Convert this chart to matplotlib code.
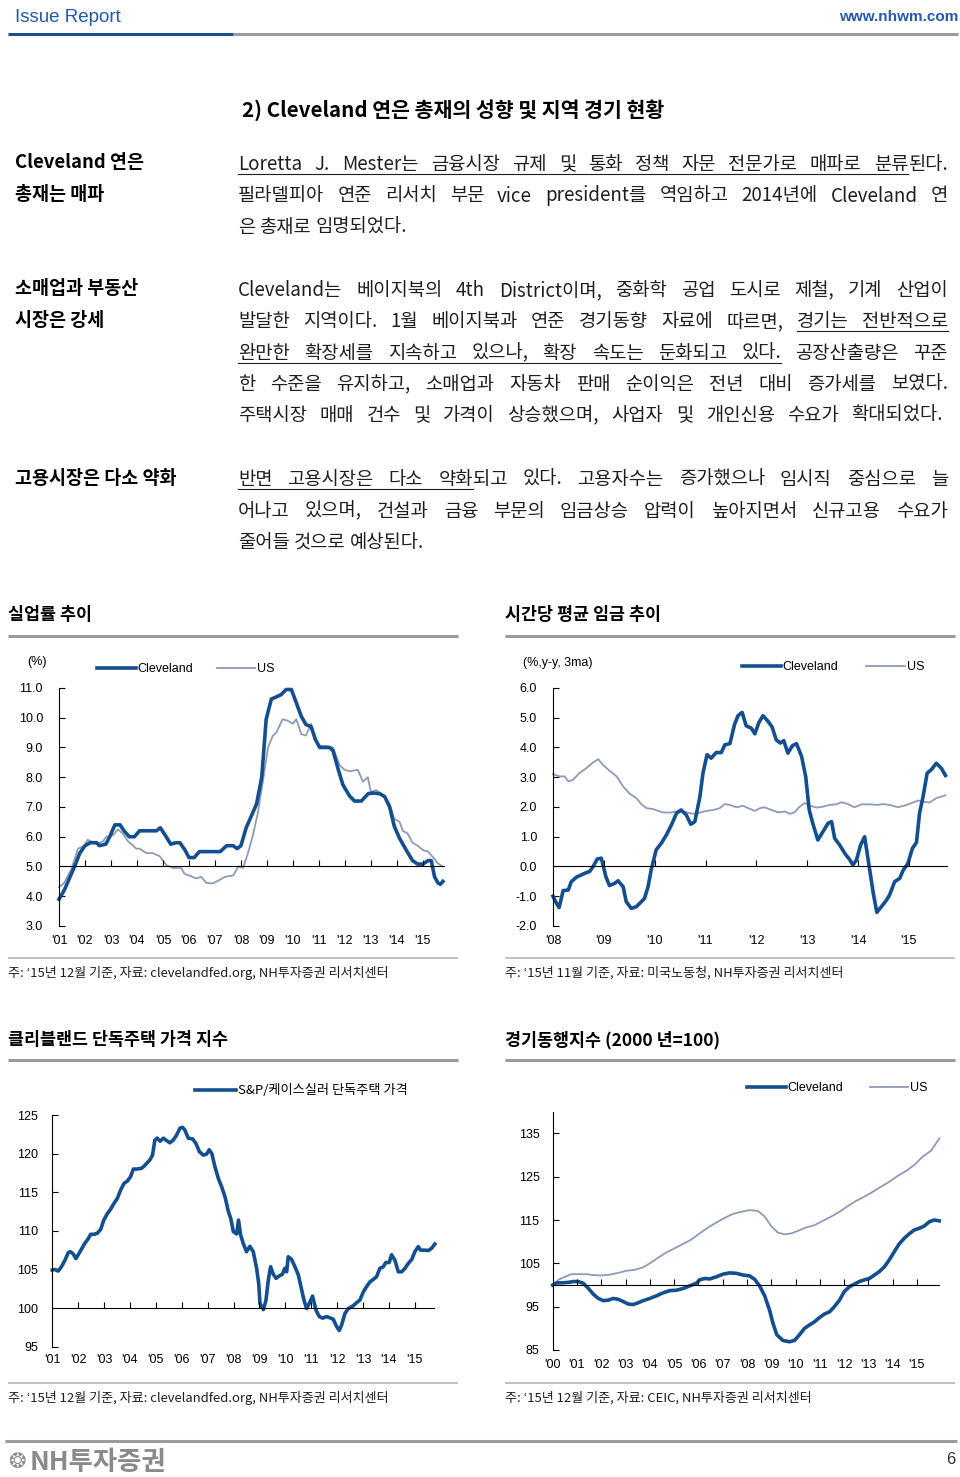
import matplotlib
matplotlib.use('Agg')
import matplotlib.pyplot as plt
import matplotlib.markers as mmarkers
from matplotlib.lines import Line2D

KR = ['Noto Sans CJK KR', 'DejaVu Sans']
LAT = ['Liberation Sans', 'DejaVu Sans']
plt.rcParams['font.family'] = KR

NAVY = '#134f8e'
SOFT = '#8d9bb6'
RULE = '#9b9b9b'
TXT = '#1e1e1e'

# ---- 실업률 추이 (%)
unemp_cle_t = [2001.0, 2001.2, 2001.4, 2001.6, 2001.8, 2002.0, 2002.2, 2002.45, 2002.55, 2002.8,
               2002.95, 2003.15, 2003.35, 2003.5, 2003.7, 2003.9, 2004.1, 2004.35, 2004.75, 2004.9,
               2005.05, 2005.3, 2005.5, 2005.65, 2005.85, 2006.0, 2006.2, 2006.4, 2006.65, 2007.2,
               2007.45, 2007.7, 2007.85, 2008.0, 2008.2, 2008.4, 2008.6, 2008.8, 2008.97, 2009.17,
               2009.36, 2009.55, 2009.74, 2009.94, 2010.13, 2010.32, 2010.5, 2010.7, 2010.87, 2011.03,
               2011.4, 2011.54, 2011.73, 2011.92, 2012.18, 2012.37, 2012.63, 2012.9, 2013.08, 2013.33,
               2013.53, 2013.72, 2013.9, 2014.1, 2014.36, 2014.6, 2014.8, 2015.0, 2015.2, 2015.32,
               2015.45, 2015.58, 2015.67, 2015.77]
unemp_cle = [3.9, 4.2, 4.6, 5.0, 5.45, 5.7, 5.8, 5.8, 5.7, 5.75,
             6.0, 6.4, 6.4, 6.2, 6.0, 6.0, 6.2, 6.2, 6.2, 6.3,
             6.1, 5.75, 5.8, 5.8, 5.55, 5.3, 5.3, 5.5, 5.5, 5.5,
             5.7, 5.7, 5.6, 5.7, 6.3, 6.7, 7.1, 8.0, 9.95, 10.63,
             10.7, 10.78, 10.95, 10.95, 10.5, 10.05, 9.77, 9.7, 9.26, 9.0,
             9.0, 8.9, 8.3, 7.75, 7.37, 7.2, 7.2, 7.45, 7.47, 7.45,
             7.35, 7.0, 6.35, 5.95, 5.55, 5.2, 5.08, 5.08, 5.2, 5.2,
             4.65, 4.45, 4.4, 4.5]
unemp_us_t = [2001.0, 2001.2, 2001.47, 2001.73, 2001.99, 2002.1, 2002.45, 2002.7, 2002.82, 2003.08,
              2003.27, 2003.46, 2003.65, 2003.85, 2003.97, 2004.1, 2004.36, 2004.6, 2004.87, 2005.13,
              2005.38, 2005.7, 2005.83, 2006.0, 2006.28, 2006.47, 2006.67, 2006.92, 2007.18, 2007.37,
              2007.7, 2007.9, 2008.08, 2008.27, 2008.46, 2008.65, 2008.85, 2009.04, 2009.23, 2009.36,
              2009.6, 2009.8, 2010.0, 2010.13, 2010.32, 2010.5, 2010.7, 2010.83, 2011.03, 2011.28,
              2011.54, 2011.8, 2011.99, 2012.18, 2012.5, 2012.69, 2012.88, 2013.0, 2013.2, 2013.46,
              2013.72, 2013.9, 2014.1, 2014.23, 2014.42, 2014.6, 2014.8, 2015.0, 2015.2, 2015.4,
              2015.58, 2015.77]
unemp_us = [4.3, 4.45, 4.9, 5.6, 5.7, 5.9, 5.75, 5.85, 6.0, 6.05,
            6.25, 6.1, 5.85, 5.7, 5.6, 5.6, 5.45, 5.45, 5.35, 5.05,
            4.95, 4.96, 4.75, 4.7, 4.6, 4.65, 4.45, 4.43, 4.55, 4.65,
            4.7, 5.0, 4.95, 5.45, 6.05, 6.8, 7.9, 9.0, 9.4, 9.5,
            9.95, 9.9, 9.8, 9.95, 9.45, 9.4, 9.8, 9.25, 9.05, 9.05,
            9.0, 8.4, 8.25, 8.2, 8.25, 7.85, 8.0, 7.5, 7.57, 7.4,
            7.1, 6.6, 6.5, 6.2, 6.1, 5.8, 5.7, 5.55, 5.5, 5.3,
            5.1, 5.0]

# ---- 시간당 평균 임금 추이 (%, y-y, 3ma)
wage_cle_t = [2008.0, 2008.07, 2008.12, 2008.2, 2008.3, 2008.36, 2008.46, 2008.56, 2008.66, 2008.72,
              2008.79, 2008.87, 2008.95, 2009.04, 2009.11, 2009.21, 2009.28, 2009.38, 2009.44, 2009.54,
              2009.64, 2009.74, 2009.8, 2009.87, 2009.93, 2010.03, 2010.13, 2010.23, 2010.33, 2010.43,
              2010.52, 2010.62, 2010.71, 2010.79, 2010.89, 2010.95, 2011.03, 2011.11, 2011.21, 2011.31,
              2011.38, 2011.48, 2011.57, 2011.64, 2011.72, 2011.8, 2011.9, 2011.97, 2012.05, 2012.13,
              2012.23, 2012.31, 2012.39, 2012.47, 2012.54, 2012.62, 2012.71, 2012.79, 2012.89, 2012.97,
              2013.04, 2013.11, 2013.21, 2013.31, 2013.41, 2013.48, 2013.54, 2013.64, 2013.74, 2013.84,
              2013.9, 2013.97, 2014.05, 2014.13, 2014.2, 2014.3, 2014.37, 2014.46, 2014.56, 2014.62,
              2014.72, 2014.82, 2014.89, 2014.98, 2015.07, 2015.15, 2015.21, 2015.28, 2015.36, 2015.44,
              2015.54, 2015.64, 2015.72]
wage_cle = [-1.0, -1.24, -1.38, -0.81, -0.79, -0.51, -0.36, -0.28, -0.2, -0.17,
            0.0, 0.25, 0.28, -0.34, -0.64, -0.57, -0.48, -0.68, -1.18, -1.41,
            -1.35, -1.18, -1.07, -0.68, -0.12, 0.56, 0.78, 1.06, 1.4, 1.79,
            1.9, 1.74, 1.42, 1.51, 2.35, 3.14, 3.76, 3.64, 3.83, 3.83,
            4.09, 4.13, 4.77, 5.07, 5.18, 4.73, 4.65, 4.46, 4.84, 5.07,
            4.88, 4.69, 4.26, 4.15, 4.23, 3.81, 4.06, 4.13, 3.7, 3.03,
            1.9, 1.45, 0.89, 1.17, 1.45, 1.51, 0.95, 0.72, 0.44, 0.22,
            0.05, 0.22, 0.72, 1.0, 0.22, -0.9, -1.54, -1.35, -1.13, -0.96,
            -0.51, -0.4, -0.12, 0.1, 0.61, 0.81, 1.79, 2.35, 3.14, 3.25,
            3.47, 3.3, 3.06]
wage_us_t = [2008.0, 2008.13, 2008.23, 2008.3, 2008.39, 2008.52, 2008.66, 2008.79, 2008.89, 2008.98,
             2009.11, 2009.25, 2009.38, 2009.51, 2009.64, 2009.74, 2009.84, 2009.97, 2010.07, 2010.16,
             2010.3, 2010.43, 2010.56, 2010.69, 2010.79, 2010.89, 2011.02, 2011.15, 2011.28, 2011.38,
             2011.48, 2011.61, 2011.74, 2011.84, 2011.97, 2012.07, 2012.16, 2012.3, 2012.43, 2012.56,
             2012.66, 2012.75, 2012.85, 2012.95, 2013.05, 2013.18, 2013.31, 2013.44, 2013.57, 2013.67,
             2013.8, 2013.93, 2014.07, 2014.23, 2014.39, 2014.49, 2014.62, 2014.79, 2014.92, 2015.05,
             2015.18, 2015.28, 2015.41, 2015.54, 2015.72]
wage_us = [3.1, 3.03, 3.03, 2.86, 2.91, 3.14, 3.31, 3.5, 3.61, 3.42,
           3.22, 3.03, 2.69, 2.44, 2.3, 2.09, 1.96, 1.93, 1.87, 1.82,
           1.81, 1.85, 1.85, 1.79, 1.77, 1.81, 1.87, 1.9, 1.96, 2.1,
           2.07, 1.99, 2.04, 1.96, 1.87, 1.96, 1.99, 1.9, 1.82, 1.85,
           1.77, 1.82, 2.01, 2.13, 2.05, 1.98, 2.01, 2.07, 2.09, 2.16,
           2.1, 1.99, 2.09, 2.09, 2.07, 2.1, 2.07, 1.99, 2.05, 2.13,
           2.22, 2.18, 2.15, 2.3, 2.39]

# ---- 클리블랜드 단독주택 가격 지수
house_t = [2001.0, 2001.1, 2001.23, 2001.36, 2001.49, 2001.62, 2001.7, 2001.81, 2001.91, 2002.0,
           2002.13, 2002.26, 2002.39, 2002.48, 2002.61, 2002.74, 2002.87, 2002.99, 2003.12, 2003.25,
           2003.38, 2003.51, 2003.64, 2003.77, 2003.9, 2004.02, 2004.13, 2004.26, 2004.45, 2004.58,
           2004.77, 2004.87, 2004.96, 2005.05, 2005.16, 2005.29, 2005.41, 2005.54, 2005.67, 2005.8,
           2005.93, 2006.03, 2006.12, 2006.25, 2006.42, 2006.55, 2006.68, 2006.83, 2006.96, 2007.06,
           2007.16, 2007.28, 2007.41, 2007.54, 2007.67, 2007.8, 2007.89, 2007.99, 2008.12, 2008.19,
           2008.27, 2008.37, 2008.5, 2008.63, 2008.76, 2008.89, 2008.97, 2009.02, 2009.15, 2009.25,
           2009.34, 2009.43, 2009.53, 2009.64, 2009.76, 2009.89, 2009.98, 2010.05, 2010.11, 2010.24,
           2010.37, 2010.5, 2010.63, 2010.72, 2010.82, 2010.92, 2011.05, 2011.18, 2011.31, 2011.44,
           2011.59, 2011.75, 2011.85, 2011.98, 2012.08, 2012.17, 2012.3, 2012.43, 2012.6, 2012.75,
           2012.88, 2013.01, 2013.14, 2013.27, 2013.39, 2013.52, 2013.65, 2013.78, 2013.88, 2014.01,
           2014.1, 2014.23, 2014.36, 2014.49, 2014.62, 2014.75, 2014.88, 2015.0, 2015.13, 2015.22,
           2015.39, 2015.52, 2015.65, 2015.77]
house_idx = [104.93, 105.0, 104.8, 105.4, 106.2, 107.2, 107.3, 107.0, 106.4, 106.9,
             107.65, 108.4, 109.0, 109.55, 109.55, 109.7, 110.2, 111.4, 112.2, 112.8,
             113.55, 114.2, 115.3, 116.15, 116.45, 117.0, 118.0, 118.0, 118.1, 118.5,
             119.2, 119.8, 121.75, 122.0, 121.6, 122.0, 121.7, 121.4, 121.75, 122.4,
             123.3, 123.4, 123.05, 122.0, 121.9, 121.3, 120.25, 119.8, 119.95, 120.5,
             120.0, 118.3, 116.8, 115.7, 114.4, 112.5, 111.6, 109.9, 109.6, 111.4,
             109.5, 108.4, 107.3, 108.0, 107.3, 105.15, 103.2, 100.6, 99.8, 101.0,
             103.6, 105.35, 104.4, 103.85, 104.15, 104.4, 105.15, 104.7, 106.65, 106.3,
             105.35, 104.3, 102.35, 101.0, 99.95, 100.6, 101.55, 99.75, 98.9, 98.7,
             98.9, 98.7, 98.55, 97.6, 97.1, 97.8, 99.3, 99.95, 100.25, 100.7,
             101.05, 102.1, 102.8, 103.4, 103.7, 104.05, 105.15, 105.35, 105.9, 105.9,
             106.9, 106.2, 104.7, 104.7, 105.15, 105.8, 106.3, 107.3, 107.95, 107.5,
             107.5, 107.45, 107.75, 108.3]

# ---- 경기동행지수 (2000년=100)
coin_cle_t = [2000.0, 2000.16, 2000.37, 2000.64, 2000.85, 2001.05, 2001.26, 2001.47, 2001.67, 2001.88,
              2002.08, 2002.29, 2002.49, 2002.7, 2002.9, 2003.11, 2003.32, 2003.52, 2003.73, 2004.0,
              2004.27, 2004.55, 2004.82, 2005.1, 2005.37, 2005.64, 2005.92, 2006.05, 2006.26, 2006.47,
              2006.74, 2007.01, 2007.29, 2007.56, 2007.84, 2008.11, 2008.32, 2008.52, 2008.73, 2008.93,
              2009.07, 2009.23, 2009.48, 2009.75, 2009.96, 2010.16, 2010.37, 2010.58, 2010.78, 2010.99,
              2011.19, 2011.4, 2011.6, 2011.81, 2012.01, 2012.22, 2012.42, 2012.63, 2012.84, 2013.04,
              2013.25, 2013.45, 2013.66, 2013.86, 2014.07, 2014.27, 2014.48, 2014.68, 2014.89, 2015.1,
              2015.3, 2015.51, 2015.71, 2015.92]
coin_cle = [100.0, 100.5, 100.5, 100.6, 100.8, 100.8, 100.4, 99.2, 97.9, 96.9,
            96.4, 96.5, 96.9, 96.7, 96.2, 95.6, 95.5, 95.9, 96.4, 96.9,
            97.5, 98.2, 98.7, 98.8, 99.2, 99.8, 100.4, 101.2, 101.5, 101.4,
            101.9, 102.5, 102.8, 102.7, 102.3, 102.1, 101.3, 99.8, 97.5, 94.2,
            91.2, 88.5, 87.2, 86.9, 87.2, 88.5, 90.0, 90.8, 91.5, 92.5,
            93.3, 93.8, 95.0, 96.5, 98.5, 99.6, 100.2, 100.8, 101.2, 101.5,
            102.3, 103.1, 104.2, 105.8, 107.7, 109.5, 110.8, 111.8, 112.7, 113.1,
            113.6, 114.6, 115.0, 114.8]
coin_us_t = [2000.0, 2000.23, 2000.51, 2000.78, 2001.05, 2001.4, 2001.67, 2002.01, 2002.36, 2002.7,
             2003.04, 2003.38, 2003.73, 2004.0, 2004.34, 2004.68, 2005.03, 2005.37, 2005.71, 2006.05,
             2006.4, 2006.74, 2007.08, 2007.42, 2007.77, 2008.11, 2008.45, 2008.73, 2009.0, 2009.27,
             2009.55, 2009.82, 2010.1, 2010.44, 2010.78, 2011.12, 2011.47, 2011.81, 2012.15, 2012.49,
             2012.84, 2013.18, 2013.52, 2013.86, 2014.21, 2014.55, 2014.89, 2015.23, 2015.58, 2015.92]
coin_us = [99.8, 101.2, 101.9, 102.5, 102.5, 102.5, 102.3, 102.2, 102.4, 102.8,
           103.3, 103.5, 104.1, 105.0, 106.3, 107.5, 108.5, 109.5, 110.5, 111.9,
           113.3, 114.4, 115.5, 116.4, 116.9, 117.3, 117.1, 115.8, 113.6, 112.1,
           111.7, 111.9, 112.5, 113.3, 113.8, 114.8, 115.8, 116.9, 118.2, 119.4,
           120.4, 121.5, 122.7, 123.8, 125.2, 126.3, 127.7, 129.6, 131.0, 133.8]

# ---- body text ([ ] marks underlined runs)
para1 = ["[Loretta J. Mester는 금융시장 규제 및 통화 정책 자문 전문가로 매파로 분류]된다.",
         "필라델피아 연준 리서치 부문 vice president를 역임하고 2014년에 Cleveland 연",
         "은 총재로 임명되었다."]
para2 = ["Cleveland는 베이지북의 4th District이며, 중화학 공업 도시로 제철, 기계 산업이",
         "발달한 지역이다. 1월 베이지북과 연준 경기동향 자료에 따르면, [경기는 전반적으로]",
         "[완만한 확장세를 지속하고 있으나, 확장 속도는 둔화되고 있다.] 공장산출량은 꾸준",
         "한 수준을 유지하고, 소매업과 자동차 판매 순이익은 전년 대비 증가세를 보였다.",
         "주택시장 매매 건수 및 가격이 상승했으며, 사업자 및 개인신용 수요가 확대되었다."]
para3 = ["[반면 고용시장은 다소 약화]되고 있다. 고용자수는 증가했으나 임시직 중심으로 늘",
         "어나고 있으며, 건설과 금융 부문의 임금상승 압력이 높아지면서 신규고용 수요가",
         "줄어들 것으로 예상된다."]

W, H = 960, 1477
fig = plt.figure(figsize=(W / 100, H / 100), dpi=100)
page = fig.add_axes([0, 0, 1, 1])
page.set_xlim(0, W)
page.set_ylim(H, 0)
page.axis('off')
renderer = fig.canvas.get_renderer()


def parse(line):
    words, ul = [], False
    for w in line.split(' '):
        pieces, buf = [], ''
        for ch in w:
            if ch in '[]':
                if buf:
                    pieces.append((buf, ul))
                    buf = ''
                ul = ch == '['
            else:
                buf += ch
        if buf:
            pieces.append((buf, ul))
        words.append(pieces)
    return words


def text_w(t):
    return t.get_window_extent(renderer).width


def body_line(x0, x1, y, line, justify, size=13.5):
    words = []
    for w in parse(line):
        pieces = []
        for s, ul in w:
            t = page.text(0, y, s, fontsize=size, color=TXT, va='baseline', ha='left')
            pieces.append((t, text_w(t), ul))
        words.append(pieces)
    widths = [sum(p[1] for p in w) for w in words]
    if justify and len(words) > 1:
        gap = (x1 - x0 - sum(widths)) / (len(words) - 1)
    else:
        a = page.text(0, 0, 'a a', fontsize=size)
        b = page.text(0, 0, 'aa', fontsize=size)
        gap = text_w(a) - text_w(b)
        a.remove()
        b.remove()
    x, runs, cur = x0, [], None
    for i, w in enumerate(words):
        if i:
            x += gap
        for t, wd, ul in w:
            t.set_x(x)
            if ul:
                cur = [x, x + wd] if cur is None else [cur[0], x + wd]
            elif cur is not None:
                runs.append(cur)
                cur = None
            x += wd
    if cur is not None:
        runs.append(cur)
    for a, b in runs:
        page.plot([a, b], [y + 4, y + 4], color=TXT, lw=0.8)


def paragraph(lines, y0, step, last_right=None):
    for i, ln in enumerate(lines):
        last = i == len(lines) - 1
        if last and last_right:
            body_line(238, last_right, y0 + i * step + 7, ln, justify=True)
        else:
            body_line(238, 948, y0 + i * step + 7, ln, justify=not last)


def hrule(x0, x1, y, color=RULE, lw=2.2):
    page.plot([x0, x1], [y, y], color=color, lw=lw, solid_capstyle='butt')


# header
page.text(15, 17, 'Issue Report', family=LAT, fontsize=13.5, color='#2459a8', va='center')
page.text(958, 17, 'www.nhwm.com', family=LAT, fontsize=11, fontweight='bold', color='#2459a8',
          va='center', ha='right')
hrule(233, 958, 34)
hrule(8, 233, 34, color='#1d4f96')

page.text(242, 110, '2) Cleveland 연은 총재의 성향 및 지역 경기 현황', fontsize=14.8,
          fontweight='bold', color='black', va='center')

for y, s in [(163, 'Cleveland 연은'), (195, '총재는 매파'), (289, '소매업과 부동산'),
             (321, '시장은 강세'), (478, '고용시장은 다소 약화')]:
    page.text(15, y, s, fontsize=13.3, fontweight='bold', color='black', va='center')

paragraph(para1, 163, 31.5)
paragraph(para2, 289, 31.3, last_right=943)
paragraph(para3, 478, 31.5)

# chart frames
for x0, x1, title in [(8, 458, '실업률 추이'), (505, 955, '시간당 평균 임금 추이')]:
    page.text(x0, 615, title, fontsize=12.5, fontweight='bold', color='black', va='center')
    hrule(x0, x1, 636)
    hrule(x0, x1, 958, color='#b0b0b0', lw=1.1)
for x0, x1, title in [(8, 458, '클리블랜드 단독주택 가격 지수'), (505, 955, '경기동행지수 (2000 년=100)')]:
    page.text(x0, 1040, title, fontsize=12.5, fontweight='bold', color='black', va='center')
    hrule(x0, x1, 1060)
    hrule(x0, x1, 1383, color='#b0b0b0', lw=1.1)

NOTE = 9.4
page.text(8, 973, '주: ‘15년 12월 기준, 자료: clevelandfed.org, NH투자증권 리서치센터',
          fontsize=NOTE, color=TXT, va='center')
page.text(505, 973, '주: ‘15년 11월 기준, 자료: 미국노동청, NH투자증권 리서치센터',
          fontsize=NOTE, color=TXT, va='center')
page.text(8, 1398, '주: ‘15년 12월 기준, 자료: clevelandfed.org, NH투자증권 리서치센터',
          fontsize=NOTE, color=TXT, va='center')
page.text(505, 1398, '주: ‘15년 12월 기준, 자료: CEIC, NH투자증권 리서치센터',
          fontsize=NOTE, color=TXT, va='center')

page.text(27, 662, '(%)', family=LAT, fontsize=9, va='center')
page.text(523, 663, '(%,y-y, 3ma)', family=LAT, fontsize=9, va='center')

# footer
hrule(5, 957, 1441)
page.text(8, 1462, '\u2742', family=['DejaVu Sans'], fontsize=15, color='#8a8a8a', va='center')
page.text(30, 1462, 'NH투자증권', fontsize=19, fontweight='bold', color='#8a8a8a', va='center')
page.text(955, 1460, '6', family=LAT, fontsize=12, color='#333333', va='center', ha='right')


def chart_axes(left, right, top, bottom):
    ax = fig.add_axes([left / W, 1 - bottom / H, (right - left) / W, (bottom - top) / H])
    ax.patch.set_alpha(0)
    return ax


def style(ax, xlim, ylim, yticks, fmt, years, base, ypad, xpad):
    ax.set_xlim(xlim)
    ax.set_ylim(ylim)
    for s in ['top', 'right', 'bottom']:
        ax.spines[s].set_visible(False)
    ax.spines['left'].set_linewidth(0.8)
    ax.set_yticks(yticks)
    ax.set_yticklabels([fmt.format(v) for v in yticks], family=LAT, fontsize=9)
    ax.tick_params(axis='y', direction='in', length=4, width=0.8, pad=ypad)
    ax.set_xticks(years)
    ax.set_xticklabels(["'%02d" % (yr % 100) for yr in years], family=LAT, fontsize=9)
    ax.tick_params(axis='x', length=0, pad=xpad)
    ax.axhline(base, color='black', lw=0.8)
    ax.plot(years[1:], [base] * (len(years) - 1), ls='none', marker=mmarkers.TICKUP,
            ms=4, mew=0.8, color='black')


def legend(ax, labels, x, y, colsp, family=LAT, size=9):
    styles = [(NAVY, 2.6), (SOFT, 1.3)]
    handles = [Line2D([], [], color=c, lw=lw) for c, lw in styles[:len(labels)]]
    ax.legend(handles, labels, loc='center left', bbox_to_anchor=(x, y),
              bbox_transform=page.transData, ncol=len(labels), frameon=False,
              handlelength=3.1, handletextpad=0.15, columnspacing=colsp,
              borderpad=0, borderaxespad=0, prop={'family': family, 'size': size})


# 1. unemployment
ax1 = chart_axes(59, 445, 688, 926)
ax1.plot(unemp_us_t, unemp_us, color=SOFT, lw=1.3, clip_on=False)
ax1.plot(unemp_cle_t, unemp_cle, color=NAVY, lw=2.6, clip_on=False, solid_joinstyle='round')
style(ax1, (2001, 2015.85), (3, 11), [3, 4, 5, 6, 7, 8, 9, 10, 11], '{:.1f}',
      list(range(2001, 2016)), 5.0, 11.5, 6.5)
legend(ax1, ['Cleveland', 'US'], 97, 669, 1.85)

# 2. wages
ax2 = chart_axes(553, 948, 688, 926)
ax2.plot(wage_us_t, wage_us, color=SOFT, lw=1.3, clip_on=False)
ax2.plot(wage_cle_t, wage_cle, color=NAVY, lw=2.6, clip_on=False, solid_joinstyle='round')
style(ax2, (2008, 2015.77), (-2, 6), [-2, -1, 0, 1, 2, 3, 4, 5, 6], '{:.1f}',
      list(range(2008, 2016)), 0.0, 11.5, 6.5)
legend(ax2, ['Cleveland', 'US'], 742, 667, 2.2)

# 3. house price index
ax3 = chart_axes(52.3, 434.8, 1115, 1346.7)
ax3.plot(house_t, house_idx, color=NAVY, lw=2.6, clip_on=False, solid_joinstyle='round')
style(ax3, (2001, 2015.77), (95, 125), [95, 100, 105, 110, 115, 120, 125], '{:d}',
      list(range(2001, 2016)), 100, 10, 5.5)
legend(ax3, ['S&P/케이스실러 단독주택 가격'], 195, 1091, 1.0, family=KR, size=9.5)

# 4. coincident index
ax4 = chart_axes(552.7, 940, 1111.7, 1350)
ax4.plot(coin_us_t, coin_us, color=SOFT, lw=1.3, clip_on=False)
ax4.plot(coin_cle_t, coin_cle, color=NAVY, lw=2.6, clip_on=False, solid_joinstyle='round')
style(ax4, (2000, 2015.95), (85, 140), [85, 95, 105, 115, 125, 135], '{:d}',
      list(range(2000, 2016)), 100, 9.5, 6.5)
legend(ax4, ['Cleveland', 'US'], 747, 1088, 2.1)

fig.savefig('out.png', dpi=100)
